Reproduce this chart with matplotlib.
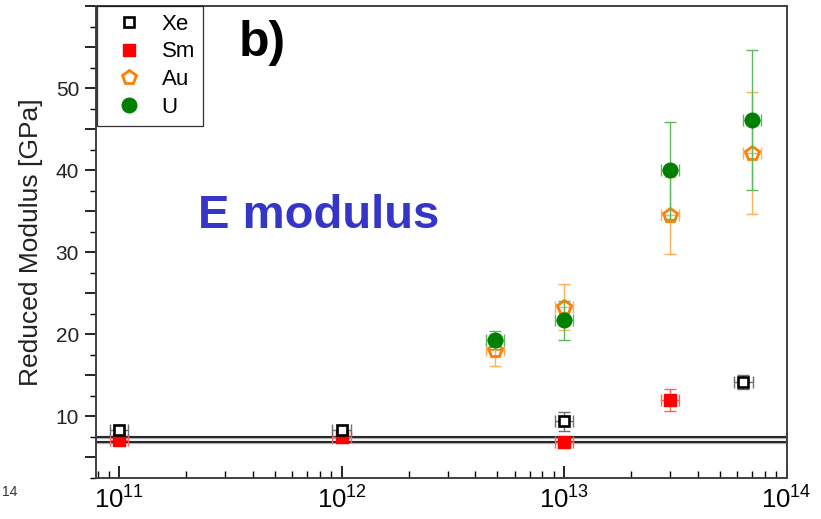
import matplotlib
matplotlib.use("Agg")
import matplotlib.pyplot as plt
from matplotlib.lines import Line2D
from matplotlib.ticker import FixedLocator, FuncFormatter, LogLocator, NullFormatter
import numpy as np

plt.rcParams['font.family'] = ['Liberation Sans', 'DejaVu Sans']
plt.rcParams['mathtext.default'] = 'regular'

# Fluence (ions/cm^2) and reduced modulus (GPa) per ion species
xe_x = [1e11, 1e12, 1e13, 6.4e13]
xe_y = [8.4, 8.3, 9.4, 14.2]
xe_err = [0.6, 0.6, 1.2, 0.9]

sm_x = [1e11, 1e12, 1e13, 3e13]
sm_y = [7.1, 7.5, 6.9, 12.0]
sm_err = [0.4, 0.4, 0.3, 1.3]

au_x = [4.9e12, 1e13, 3e13, 7e13]
au_y = [18.1, 23.3, 34.5, 42.1]
au_err = [1.9, 2.8, 4.7, 7.4]

u_x = [4.9e12, 1e13, 3e13, 7e13]
u_y = [19.3, 21.7, 40.0, 46.1]
u_err = [1.1, 2.4, 5.9, 8.5]

ref_lines = [7.45, 6.85]

x_ticks = [1e11, 1e12, 1e13, 1e14]
x_tick_labels = [r'$10^{11}$', r'$10^{12}$', r'$10^{13}$', r'$10^{14}$']

W, H = 821, 519
fig = plt.figure(figsize=(W / 100, H / 100), dpi=100)
ax = fig.add_axes([95.7 / W, 1 - 478 / H, (786.5 - 95.7) / W, (478 - 6) / H])

ax.set_xscale('log')
ax.set_xlim(7.85e10, 1e14)
ax.set_ylim(2.5, 60)

for y in ref_lines:
    ax.axhline(y, color='#b0b0b0', lw=2.4, zorder=1)
    ax.axhline(y, color='black', lw=1.1, zorder=1.1)


def xerr_of(xs, frac=0.1):
    xs = np.asarray(xs)
    return np.vstack([xs - xs / (1 + frac), xs * frac])


def draw(xs, ys, err, marker, mcolor, ecolor, ms, mfc, mew, z):
    ax.errorbar(xs, ys, yerr=err, xerr=xerr_of(xs), fmt='none', ecolor=ecolor,
                elinewidth=1.0, capsize=4, capthick=1.0, zorder=z)
    ax.plot(xs, ys, ls='none', marker=marker, ms=ms, mfc=mfc, mec=mcolor,
            mew=mew, zorder=z + 0.5)


draw(sm_x, sm_y, sm_err, 's', '#ff0000', '#ff6060', 8, '#ff0000', 1.0, 2)
draw(xe_x, xe_y, xe_err, 's', 'black', '#707070', 7.5, 'white', 1.9, 3)
draw(au_x, au_y, au_err, 'p', '#ff7f00', '#ffae5c', 10.5, 'none', 2.0, 4)
draw(u_x, u_y, u_err, 'o', '#008000', '#5cb85c', 10.5, '#008000', 1.0, 5)

# Axis styling
for s in ax.spines.values():
    s.set_color('#404040')
    s.set_linewidth(1.4)

ax.xaxis.set_major_locator(FixedLocator(x_ticks))
ax.set_xticklabels(x_tick_labels)
ax.xaxis.set_minor_locator(LogLocator(base=10, subs=np.arange(2, 10), numticks=20))
ax.xaxis.set_minor_formatter(NullFormatter())
ax.tick_params(axis='x', which='major', direction='in', length=9, width=1.2,
               labelsize=18.5, pad=6, top=False)
ax.tick_params(axis='x', which='minor', direction='in', length=5, width=1.0, top=False)

ax.yaxis.set_major_locator(FixedLocator(np.arange(5, 61, 5)))
ax.yaxis.set_minor_locator(FixedLocator(np.arange(2.5, 60, 5)))
ax.yaxis.set_major_formatter(FuncFormatter(lambda v, p: f'{int(round(v))}' if round(v) % 10 == 0 and v < 55 else ''))
ax.tick_params(axis='y', which='major', direction='out', length=8, width=1.2,
               labelsize=15, pad=4, right=False, labelcolor='#222222')
ax.tick_params(axis='y', which='minor', direction='out', length=4, width=1.0, right=False)

ax.set_ylabel('Reduced Modulus [GPa]', fontsize=19, color='#222222', labelpad=9)

handles = [
    Line2D([], [], ls='none', marker='s', ms=7.5, mfc='white', mec='black', mew=1.9),
    Line2D([], [], ls='none', marker='s', ms=8, mfc='#ff0000', mec='#ff0000'),
    Line2D([], [], ls='none', marker='p', ms=10.5, mfc='none', mec='#ff7f00', mew=2.0),
    Line2D([], [], ls='none', marker='o', ms=10.5, mfc='#008000', mec='#008000'),
]
leg = ax.legend(handles, ['Xe', 'Sm', 'Au', 'U'], loc='upper left',
                bbox_to_anchor=(0.002, 1.0), fontsize=16, frameon=True,
                fancybox=False, borderpad=0.35, labelspacing=0.3,
                handlelength=2.2, handletextpad=0.35, borderaxespad=0)
leg.get_frame().set_edgecolor('black')
leg.get_frame().set_linewidth(0.9)

fig.text(262 / W, 1 - 43 / H, 'b)', fontsize=36, fontweight='bold',
         ha='center', va='center', color='black')
fig.text(319 / W, 1 - 216 / H, 'E modulus', fontsize=34, fontweight='bold',
         ha='center', va='center', color='#3535c8')
fig.text(10 / W, 1 - 492 / H, '14', fontsize=10, ha='center', va='center', color='#333333')

fig.savefig('out.png', dpi=100)
